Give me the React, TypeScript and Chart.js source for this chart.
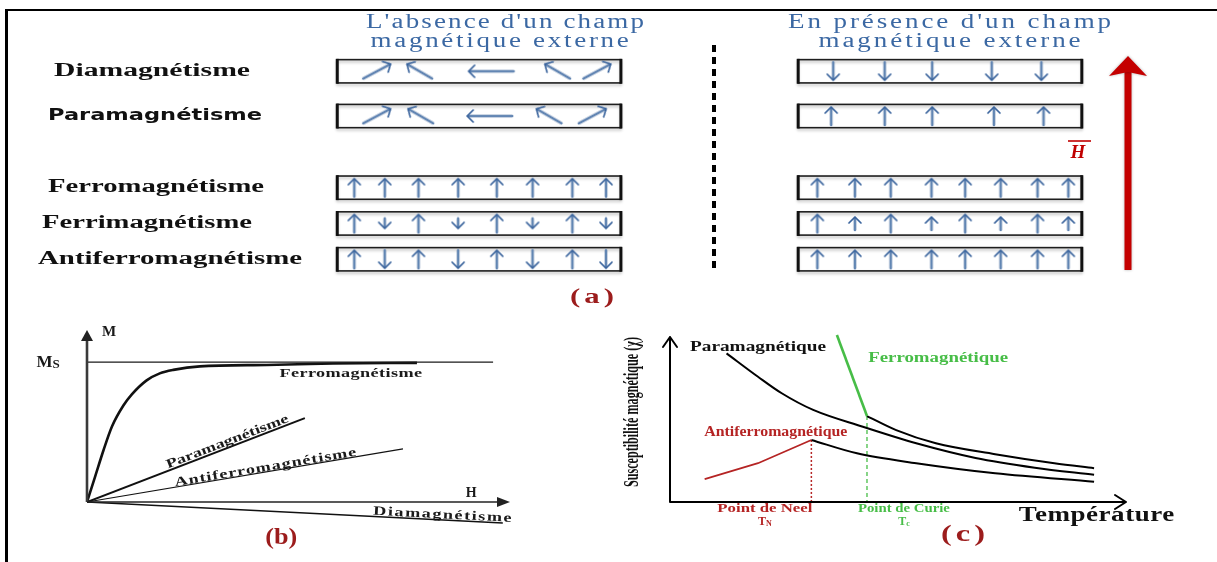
import { useEffect, useRef } from 'react';
import { Chart, registerables } from 'chart.js';

Chart.register(...registerables);

const SERIF = '"Liberation Serif", "Times New Roman", serif';
const SANS = '"DejaVu Sans", Verdana, sans-serif';

/* ---------------- (a) spin arrangements ---------------- */
const ROW_NAMES = ['Diamagnétisme', 'Paramagnétisme', 'Ferromagnétisme', 'Ferrimagnétisme', 'Antiferromagnétisme'];
const TITLE_ABSENT = ["L'absence d'un champ", 'magnétique externe'];
const TITLE_PRESENT = ["En présence d'un champ", 'magnétique externe'];

// site position along a chain (lattice units), moment direction (deg clockwise from up), moment length
const SITES_DIA_OFF = [1.12, 2.32, 4.34, 6.21, 7.33];
const DIR_DIA_OFF = [62, -60, -90, -60, 62];
const LEN_DIA_OFF = [1.7, 1.6, 2.5, 1.6, 1.7];
const SITES_DIA_ON = [13.99, 15.44, 16.78, 18.46, 19.86];
const DIR_DIA_ON = [180, 180, 180, 180, 180];
const LEN_DIA_ON = [1, 1, 1, 1, 1];

const SITES_PARA_OFF = [1.12, 2.35, 4.3, 5.97, 7.2];
const DIR_PARA_OFF = [62, -60, -90, -60, 62];
const LEN_PARA_OFF = [1.7, 1.6, 2.5, 1.6, 1.7];
const SITES_PARA_ON = [13.93, 15.44, 16.78, 18.52, 19.92];
const DIR_PARA_ON = [0, 0, 0, 0, 0];
const LEN_PARA_ON = [1, 1, 1, 1, 1];

const SITES_CHAIN_OFF = [0.48, 1.34, 2.29, 3.41, 4.5, 5.51, 6.63, 7.58];
const SITES_CHAIN_ON = [13.54, 14.6, 15.61, 16.76, 17.71, 18.71, 19.75, 20.62];

const DIR_FERRO_OFF = [0, 0, 0, 0, 0, 0, 0, 0];
const LEN_FERRO_OFF = [1, 1, 1, 1, 1, 1, 1, 1];
const DIR_FERRO_ON = [0, 0, 0, 0, 0, 0, 0, 0];
const LEN_FERRO_ON = [1, 1, 1, 1, 1, 1, 1, 1];

const DIR_FERRI_OFF = [0, 180, 0, 180, 0, 180, 0, 180];
const LEN_FERRI_OFF = [1, 0.55, 1, 0.55, 1, 0.55, 1, 0.55];
const DIR_FERRI_ON = [0, 0, 0, 0, 0, 0, 0, 0];
const LEN_FERRI_ON = [1, 0.7, 1, 0.7, 1, 0.7, 1, 0.7];

const DIR_AFM_OFF = [0, 180, 0, 180, 0, 180, 0, 180];
const LEN_AFM_OFF = [1, 1, 1, 1, 1, 1, 1, 1];
const DIR_AFM_ON = [0, 0, 0, 0, 0, 0, 0, 0];
const LEN_AFM_ON = [1, 1, 1, 1, 1, 1, 1, 1];

const CHAINS = [
  [[SITES_DIA_OFF, DIR_DIA_OFF, LEN_DIA_OFF], [SITES_DIA_ON, DIR_DIA_ON, LEN_DIA_ON]],
  [[SITES_PARA_OFF, DIR_PARA_OFF, LEN_PARA_OFF], [SITES_PARA_ON, DIR_PARA_ON, LEN_PARA_ON]],
  [[SITES_CHAIN_OFF, DIR_FERRO_OFF, LEN_FERRO_OFF], [SITES_CHAIN_ON, DIR_FERRO_ON, LEN_FERRO_ON]],
  [[SITES_CHAIN_OFF, DIR_FERRI_OFF, LEN_FERRI_OFF], [SITES_CHAIN_ON, DIR_FERRI_ON, LEN_FERRI_ON]],
  [[SITES_CHAIN_OFF, DIR_AFM_OFF, LEN_AFM_OFF], [SITES_CHAIN_ON, DIR_AFM_ON, LEN_AFM_ON]],
];

/* ---------------- (b) magnetisation M(H) ---------------- */
const H_FERRO = [0, 1.9, 3.9, 5.9, 8.6, 10.6, 14.1, 17.2, 20.4, 26.7, 42.5, 58.2, 78];
const M_FERRO = [0, 0.18, 0.37, 0.54, 0.69, 0.77, 0.87, 0.92, 0.945, 0.97, 0.98, 0.99, 0.995];
const H_PARA = [0, 51.5];
const M_PARA = [0, 0.6];
const H_AFM = [0, 74.7];
const M_AFM = [0, 0.38];
const H_DIA = [0, 98.3];
const M_DIA = [0, -0.15];
const M_SAT = 1;
const H_SAT_END = 96;

/* ---------------- (c) susceptibility χ(T) ---------------- */
const T_PARA = [12.4, 19.3, 24.5, 31.4, 42.3, 54, 67, 80, 93];
const CHI_PARA = [90.1, 75.9, 65.9, 55.8, 45.6, 35.6, 26.7, 20.8, 16.5];
const T_FERRO_BELOW = [36.6, 43.2];
const CHI_FERRO_BELOW = [101.2, 52.1];
const T_FERRO_ABOVE = [43.2, 49.6, 58.3, 71.3, 84.3, 93];
const CHI_FERRO_ABOVE = [52.1, 43.6, 35.6, 29, 23.5, 20.5];
const T_AFM_BELOW = [7.6, 19.3, 31];
const CHI_AFM_BELOW = [13.8, 23.5, 37.6];
const T_AFM_ABOVE = [31, 41, 54, 71.3, 93];
const CHI_AFM_ABOVE = [37.6, 29.5, 23.5, 17.4, 12.3];
const T_NEEL = 31;
const T_CURIE = 43.2;

/* ---------------- layout ---------------- */
const ROW_LEVEL = [0, 1.25, 3.25, 4.25, 5.25];
const BOXES = [[0, 8], [13, 21]];
const BOX_HALF = 0.325;
const ROW_LABEL_CX = [152, 155, 156, 147, 170];
const ROW_LABEL_W = [196, 214, 216, 210, 264];
const ARROW_UNIT = 18;

const BLUE = '#3b68a3';
const DARK_RED = '#9c1c1c';
const GREEN = '#47bd47';
const AFM_RED = '#b52424';

const zip = (xs: number[], ys: number[]) => xs.map((x, i) => ({ x, y: ys[i] }));

function stretchText(
  ctx: CanvasRenderingContext2D, text: string, x: number, y: number, width: number,
  font: string, color: string, angle = 0, maxGlyph = 1.7,
) {
  const c: any = ctx;
  ctx.save();
  ctx.font = font;
  ctx.fillStyle = color;
  ctx.textAlign = 'left';
  ctx.textBaseline = 'middle';
  ctx.translate(x, y);
  if (angle) ctx.rotate(angle);
  const w0 = ctx.measureText(text).width;
  if (width / w0 > maxGlyph && 'letterSpacing' in c) {
    const n = Array.from(text).length;
    c.letterSpacing = ((width / maxGlyph - w0) / n).toFixed(2) + 'px';
  }
  const w1 = ctx.measureText(text).width;
  ctx.scale(width / w1, 1);
  ctx.fillText(text, -w1 / 2, 0);
  if ('letterSpacing' in c) c.letterSpacing = '0px';
  ctx.restore();
}

function subText(
  ctx: CanvasRenderingContext2D, main: string, sub: string, cx: number, cy: number,
  mainFont: string, subFont: string, color: string, drop = 3,
) {
  ctx.save();
  ctx.fillStyle = color;
  ctx.textBaseline = 'middle';
  ctx.textAlign = 'left';
  ctx.font = mainFont;
  const wm = ctx.measureText(main).width;
  ctx.font = subFont;
  const ws = ctx.measureText(sub).width;
  const left = cx - (wm + ws) / 2;
  ctx.font = mainFont;
  ctx.fillText(main, left, cy);
  ctx.font = subFont;
  ctx.fillText(sub, left + wm, cy + drop);
  ctx.restore();
}

const arrowCache = new Map<number, HTMLCanvasElement>();
function arrowImage(len: number): HTMLCanvasElement {
  const L = Math.round(len * ARROW_UNIT);
  const hit = arrowCache.get(L);
  if (hit) return hit;
  const c = document.createElement('canvas');
  c.width = 16;
  c.height = L + 4;
  const g = c.getContext('2d')!;
  const cx = 8;
  const tip = 2;
  const tail = L + 2;
  g.lineCap = 'round';
  g.lineJoin = 'round';
  const grad = g.createLinearGradient(cx - 1.4, 0, cx + 1.4, 0);
  grad.addColorStop(0, '#30598e');
  grad.addColorStop(0.5, '#7f9fc8');
  grad.addColorStop(1, '#30598e');
  g.strokeStyle = grad;
  g.lineWidth = 2.5;
  g.beginPath();
  g.moveTo(cx, tip + 1);
  g.lineTo(cx, tail);
  g.stroke();
  g.strokeStyle = '#35609a';
  g.lineWidth = 1.7;
  g.beginPath();
  g.moveTo(cx - 6, tip + 6);
  g.lineTo(cx, tip);
  g.lineTo(cx + 6, tip + 6);
  g.stroke();
  arrowCache.set(L, c);
  return c;
}

const baseOptions = (xMin: number, xMax: number, yMin: number, yMax: number, padding: any, reverseY = false): any => ({
  responsive: false,
  animation: false,
  devicePixelRatio: 1,
  events: [],
  layout: { padding },
  plugins: { legend: { display: false }, tooltip: { enabled: false } },
  scales: {
    x: { type: 'linear', min: xMin, max: xMax, display: false },
    y: { type: 'linear', min: yMin, max: yMax, display: false, reverse: reverseY },
  },
});

/* ---------- panel (a) decorations ---------- */
const panelAPlugin = {
  id: 'panelA',
  beforeDatasetsDraw(chart: any) {
    const { ctx, scales } = chart;
    const xs = scales.x;
    const ys = scales.y;
    ROW_LEVEL.forEach((lvl, r) => {
      const y0 = ys.getPixelForValue(lvl - BOX_HALF);
      const y1 = ys.getPixelForValue(lvl + BOX_HALF);
      BOXES.forEach(([a, b]) => {
        const x0 = xs.getPixelForValue(a);
        const x1 = xs.getPixelForValue(b);
        ctx.save();
        ctx.shadowColor = 'rgba(0,0,0,0.28)';
        ctx.shadowBlur = 3;
        ctx.shadowOffsetY = 2;
        ctx.strokeStyle = '#1e1e1e';
        ctx.lineWidth = 1.6;
        ctx.strokeRect(x0, y0, x1 - x0, y1 - y0);
        ctx.restore();
        ctx.fillStyle = '#111';
        ctx.fillRect(x0 - 1.5, y0 - 0.8, 3, y1 - y0 + 1.6);
        ctx.fillRect(x1 - 1.5, y0 - 0.8, 3, y1 - y0 + 1.6);
      });
      const isSans = r === 1;
      stretchText(
        ctx, ROW_NAMES[r], ROW_LABEL_CX[r], (y0 + y1) / 2, ROW_LABEL_W[r],
        isSans ? `bold 15px ${SANS}` : `bold 18px ${SERIF}`, '#111', 0, 1.7,
      );
    });
  },
  afterDraw(chart: any) {
    const { ctx } = chart;
    stretchText(ctx, TITLE_ABSENT[0], 506, 23, 280, `20px ${SERIF}`, BLUE, 0, 1.35);
    stretchText(ctx, TITLE_ABSENT[1], 501, 42, 261, `20px ${SERIF}`, BLUE, 0, 1.35);
    stretchText(ctx, TITLE_PRESENT[0], 951, 23, 326, `20px ${SERIF}`, BLUE, 0, 1.35);
    stretchText(ctx, TITLE_PRESENT[1], 951, 42, 265, `20px ${SERIF}`, BLUE, 0, 1.35);

    // divider between the two states
    ctx.save();
    ctx.strokeStyle = '#000';
    ctx.lineWidth = 4;
    ctx.setLineDash([7, 5]);
    ctx.beginPath();
    ctx.moveTo(714, 45);
    ctx.lineTo(714, 273);
    ctx.stroke();
    ctx.restore();

    // applied field arrow
    ctx.save();
    ctx.shadowColor = 'rgba(0,0,0,0.3)';
    ctx.shadowBlur = 3;
    ctx.fillStyle = '#c40000';
    ctx.fillRect(1124.5, 70, 7, 200);
    ctx.beginPath();
    ctx.moveTo(1109, 76);
    ctx.lineTo(1128, 56);
    ctx.lineTo(1147, 76);
    ctx.lineTo(1128, 72);
    ctx.closePath();
    ctx.fill();
    ctx.restore();

    ctx.save();
    ctx.fillStyle = '#c00000';
    ctx.font = `bold italic 19px ${SERIF}`;
    ctx.textAlign = 'center';
    ctx.textBaseline = 'alphabetic';
    ctx.fillText('H', 1078, 158);
    ctx.strokeStyle = '#c00000';
    ctx.lineWidth = 1.6;
    ctx.beginPath();
    ctx.moveTo(1068, 141);
    ctx.lineTo(1091, 141);
    ctx.stroke();
    ctx.restore();

    stretchText(ctx, '(a)', 594, 297, 48, `bold 22px ${SERIF}`, DARK_RED, 0, 1.4);
  },
};

/* ---------- panel (b) decorations ---------- */
const panelBPlugin = {
  id: 'panelB',
  afterDatasetsDraw(chart: any) {
    const { ctx, scales, chartArea } = chart;
    const xs = scales.x;
    const ys = scales.y;
    const px = (v: number) => xs.getPixelForValue(v);
    const py = (v: number) => ys.getPixelForValue(v);
    const ox = px(0);
    const oy = py(0);
    ctx.save();
    ctx.strokeStyle = '#3a3a3a';
    ctx.fillStyle = '#222';
    ctx.lineWidth = 2.6;
    ctx.beginPath();
    ctx.moveTo(ox, oy);
    ctx.lineTo(ox, chartArea.top + 8);
    ctx.stroke();
    ctx.beginPath();
    ctx.moveTo(ox - 6, chartArea.top + 11);
    ctx.lineTo(ox, chartArea.top);
    ctx.lineTo(ox + 6, chartArea.top + 11);
    ctx.closePath();
    ctx.fill();
    ctx.lineWidth = 1.4;
    ctx.strokeStyle = '#222';
    ctx.beginPath();
    ctx.moveTo(ox, oy);
    ctx.lineTo(chartArea.right - 8, oy);
    ctx.stroke();
    ctx.beginPath();
    ctx.moveTo(chartArea.right - 13, oy - 5);
    ctx.lineTo(chartArea.right, oy);
    ctx.lineTo(chartArea.right - 13, oy + 5);
    ctx.closePath();
    ctx.fill();
    ctx.restore();

    const ink = '#1a1a1a';
    const f = `bold 13px ${SERIF}`;
    const slope = (hs: number[], ms: number[]) =>
      Math.atan2(py(ms[1]) - py(ms[0]), px(hs[1]) - px(hs[0]));
    stretchText(ctx, 'Ferromagnétisme', px(62.4), py(0.921), 143, f, ink, 0, 1.4);
    stretchText(ctx, 'Paramagnétisme', px(33.2), py(0.43), 130, f, ink, slope(H_PARA, M_PARA), 1.4);
    stretchText(ctx, 'Antiferromagnétisme', px(42.3), py(0.246), 185, f, ink, slope(H_AFM, M_AFM), 1.4);
    stretchText(ctx, 'Diamagnétisme', px(84.2), py(-0.093), 140, f, ink, slope(H_DIA, M_DIA), 1.4);

    ctx.save();
    ctx.fillStyle = ink;
    ctx.font = `bold 15px ${SERIF}`;
    ctx.textAlign = 'center';
    ctx.textBaseline = 'middle';
    ctx.fillText('M', px(5.2), py(1.214));
    ctx.font = `bold 14px ${SERIF}`;
    ctx.fillText('H', px(90.8), py(0.064));
    ctx.restore();
    subText(ctx, 'M', 'S', px(-9.2), py(M_SAT), `bold 17px ${SERIF}`, `bold 13px ${SERIF}`, ink, 2);

    stretchText(ctx, '(b)', px(45.9), py(-0.257), 32, `bold 24px ${SERIF}`, DARK_RED, 0, 1.3);
  },
};

/* ---------- panel (c) decorations ---------- */
const panelCPlugin = {
  id: 'panelC',
  afterDatasetsDraw(chart: any) {
    const { ctx, scales, chartArea } = chart;
    const xs = scales.x;
    const ys = scales.y;
    const px = (v: number) => xs.getPixelForValue(v);
    const py = (v: number) => ys.getPixelForValue(v);
    const ox = px(0);
    const oy = py(0);
    const top = py(100);
    ctx.save();
    ctx.strokeStyle = '#000';
    ctx.lineWidth = 2;
    ctx.lineCap = 'round';
    ctx.lineJoin = 'round';
    ctx.beginPath();
    ctx.moveTo(ox, oy);
    ctx.lineTo(ox, top);
    ctx.moveTo(ox - 7, top + 10);
    ctx.lineTo(ox, top);
    ctx.lineTo(ox + 7, top + 10);
    ctx.moveTo(ox, oy);
    ctx.lineTo(chartArea.right, oy);
    ctx.moveTo(chartArea.right - 11, oy - 7);
    ctx.lineTo(chartArea.right, oy);
    ctx.lineTo(chartArea.right - 11, oy + 7);
    ctx.stroke();
    ctx.restore();

    stretchText(ctx, 'Susceptibilité magnétique (χ)', ox - 37, py(54.5), 150, `bold 21px ${SERIF}`, '#111', -Math.PI / 2, 1);
    stretchText(ctx, 'Paramagnétique', px(19.3), py(93.9), 136, `bold 14px ${SERIF}`, '#111', 0, 1.4);
    stretchText(ctx, 'Ferromagnétique', px(58.8), py(87.3), 140, `bold 14px ${SERIF}`, GREEN, 0, 1.4);
    stretchText(ctx, 'Antiferromagnétique', px(23.2), py(42.4), 143, `bold 14px ${SERIF}`, AFM_RED, 0, 1.4);
    stretchText(ctx, 'Point de Neel', px(20.8), py(-4.2), 95, `bold 13px ${SERIF}`, AFM_RED, 0, 1.4);
    subText(ctx, 'T', 'N', px(20.8), py(-11.8), `bold 12px ${SERIF}`, `bold 8px ${SERIF}`, AFM_RED, 2);
    stretchText(ctx, 'Point de Curie', px(51.3), py(-4.2), 92, `bold 13px ${SERIF}`, GREEN, 0, 1.4);
    subText(ctx, 'T', 'c', px(51.3), py(-11.8), `bold 12px ${SERIF}`, `bold 8px ${SERIF}`, GREEN, 2);
    stretchText(ctx, 'Température', px(93.6), py(-8.5), 156, `bold 20px ${SERIF}`, '#111', 0, 1.35);
    stretchText(ctx, '(c)', px(64.7), py(-20), 48, `bold 24px ${SERIF}`, DARK_RED, 0, 1.35);
  },
};

const line = (data: any[], color: string, width: number, extra: any = {}) => ({
  data,
  borderColor: color,
  borderWidth: width,
  pointRadius: 0,
  fill: false,
  showLine: true,
  tension: 0,
  ...extra,
});

export default function App() {
  const aRef = useRef<HTMLCanvasElement>(null);
  const bRef = useRef<HTMLCanvasElement>(null);
  const cRef = useRef<HTMLCanvasElement>(null);

  useEffect(() => {
    // panel (a): 35.75 px per lattice site, 37 px per row unit
    const aDatasets: any[] = [];
    CHAINS.forEach((sides, r) => {
      sides.forEach(([sites, dirs, lens]) => {
        aDatasets.push({
          data: sites.map((s) => ({ x: s, y: ROW_LEVEL[r] })),
          pointStyle: lens.map((l) => arrowImage(l)),
          pointRotation: dirs,
          pointRadius: 3,
          showLine: false,
          clip: false,
        });
      });
    });
    const chartA = new Chart(aRef.current!, {
      type: 'scatter',
      data: { datasets: aDatasets },
      options: baseOptions(-335 / 35.75, (1217 - 335) / 35.75, -68.5 / 37, (310 - 68.5) / 37, 0, true),
      plugins: [panelAPlugin],
    } as any);

    const chartB = new Chart(bRef.current!, {
      type: 'line',
      data: {
        datasets: [
          line([{ x: 0, y: M_SAT }, { x: H_SAT_END, y: M_SAT }], '#1a1a1a', 1.2),
          line(zip(H_FERRO, M_FERRO), '#111', 2.6, { cubicInterpolationMode: 'monotone' }),
          line(zip(H_PARA, M_PARA), '#111', 2),
          line(zip(H_AFM, M_AFM), '#111', 1.2),
          line(zip(H_DIA, M_DIA), '#111', 1.5),
        ],
      },
      options: baseOptions(0, 100, -0.2, 1.23, { left: 87, right: 90, top: 20, bottom: 32 }),
      plugins: [panelBPlugin],
    } as any);

    const chartC = new Chart(cRef.current!, {
      type: 'line',
      data: {
        datasets: [
          line(zip(T_PARA, CHI_PARA), '#000', 2, { cubicInterpolationMode: 'monotone' }),
          line(zip(T_FERRO_BELOW, CHI_FERRO_BELOW), GREEN, 2.6),
          line(zip(T_FERRO_ABOVE, CHI_FERRO_ABOVE), '#000', 2, { cubicInterpolationMode: 'monotone' }),
          line(zip(T_AFM_BELOW, CHI_AFM_BELOW), AFM_RED, 1.8),
          line(zip(T_AFM_ABOVE, CHI_AFM_ABOVE), '#000', 2, { cubicInterpolationMode: 'monotone' }),
          line([{ x: T_NEEL, y: CHI_AFM_BELOW[CHI_AFM_BELOW.length - 1] }, { x: T_NEEL, y: 0 }], AFM_RED, 1.5, { borderDash: [2, 2] }),
          line([{ x: T_CURIE, y: CHI_FERRO_BELOW[CHI_FERRO_BELOW.length - 1] }, { x: T_CURIE, y: 0 }], GREEN, 1.3, { borderDash: [4, 3] }),
        ],
      },
      options: baseOptions(0, 100, 0, 105, { left: 70, right: 91, top: 18.75, bottom: 60 }),
      plugins: [panelCPlugin],
    } as any);

    return () => {
      chartA.destroy();
      chartB.destroy();
      chartC.destroy();
    };
  }, []);

  const abs = (left: number, top: number, width: number, height: number): any => ({
    position: 'absolute', left, top, width, height,
  });

  return (
    <div style={{ position: 'absolute', left: 0, top: 0, width: 1217, height: 562, background: '#fff', overflow: 'hidden' }}>
      <div style={{ ...abs(5, 9, 1212, 2), background: '#000' }} />
      <div style={{ ...abs(5, 9, 2.5, 553), background: '#000' }} />
      <canvas ref={aRef} width={1217} height={310} style={abs(0, 0, 1217, 310)} />
      <canvas ref={bRef} width={600} height={252} style={abs(0, 310, 600, 252)} />
      <canvas ref={cRef} width={617} height={252} style={abs(600, 310, 617, 252)} />
    </div>
  );
}
